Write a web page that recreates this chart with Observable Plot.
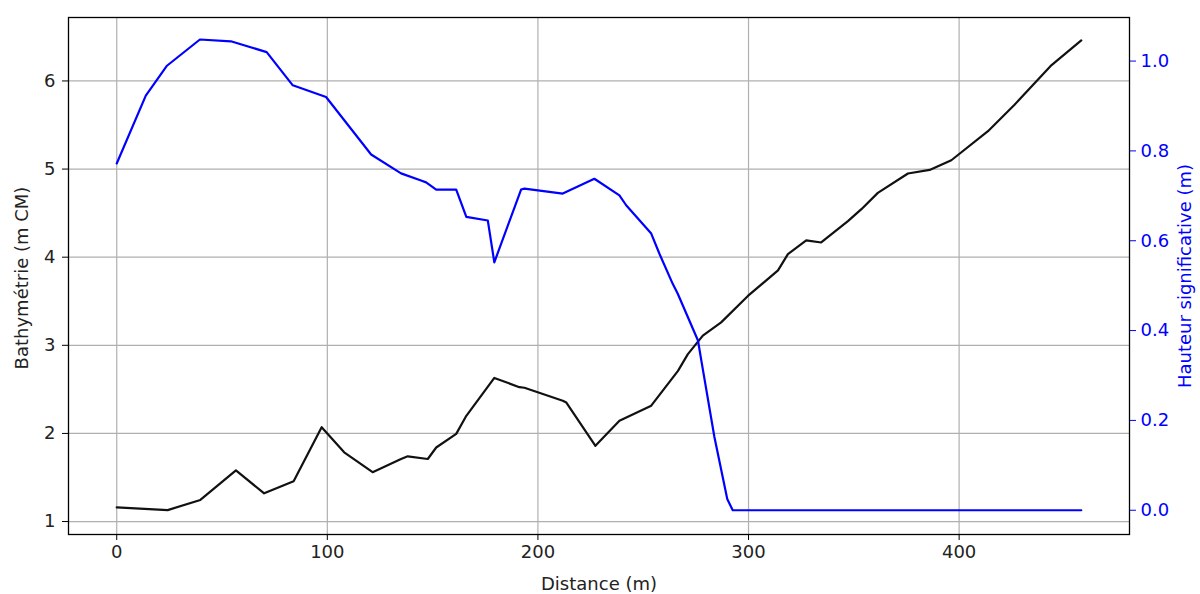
<!DOCTYPE html>
<html>
<head>
<meta charset="utf-8">
<script src="https://cdn.jsdelivr.net/npm/d3@7"></script>
<script src="https://cdn.jsdelivr.net/npm/@observablehq/plot@0.6"></script>
<style>
  body { margin: 0; background: #fff; }
</style>
</head>
<body>
<div id="chart"></div>
<script>
// Bathymetry profile (black, left axis)
const bathyDist  = [0, 24.2, 39.7, 56.6, 70, 84, 97.3, 108, 121.5, 135, 138.2, 147.7, 151.7, 161.2, 166, 179.3, 191.2, 193.6, 211.8, 213.5, 227.3, 238.7, 253.8, 266.5, 271.2, 278.3, 287, 299.7, 314, 318.7, 327.4, 334.5, 347.2, 353.6, 361.4, 375.7, 386, 396.3, 413.7, 426.3, 443.9, 458];
const bathyDepth = [1.16, 1.13, 1.245, 1.58, 1.32, 1.457, 2.07, 1.786, 1.56, 1.71, 1.74, 1.71, 1.84, 1.995, 2.2, 2.63, 2.525, 2.518, 2.37, 2.35, 1.86, 2.145, 2.315, 2.71, 2.9, 3.11, 3.26, 3.56, 3.85, 4.035, 4.19, 4.167, 4.41, 4.545, 4.73, 4.95, 4.99, 5.1, 5.43, 5.73, 6.18, 6.46];

// Significant wave height (blue, right axis)
const hsDist  = [0, 13.8, 23.7, 39.5, 54.2, 71.2, 83.6, 99.4, 120.8, 135, 144.5, 146.9, 151.7, 161.2, 166, 176.2, 179.3, 192, 193.6, 211.8, 226.8, 238.7, 241.9, 253.8, 257.7, 264, 266.4, 276, 277.6, 283.8, 289.9, 292.5, 458];
const hsValue = [0.772, 0.923, 0.989, 1.048, 1.044, 1.02, 0.946, 0.92, 0.792, 0.75, 0.734, 0.73, 0.714, 0.714, 0.653, 0.645, 0.552, 0.714, 0.716, 0.705, 0.738, 0.701, 0.679, 0.616, 0.571, 0.504, 0.482, 0.378, 0.333, 0.163, 0.025, 0, 0];

// Ticks
const xTicks = [0, 100, 200, 300, 400];
const bathyTicks = [1, 2, 3, 4, 5, 6];
const hsTicks = [0, 0.2, 0.4, 0.6, 0.8, 1.0];

// Axis labels
const xLabel = "Distance (m)";
const yLeftLabel = "Bathymétrie (m CM)";
const yRightLabel = "Hauteur significative (m)";

// Domains
const xDomain = [-22.9, 480.9];
const bathyDomain = [0.853, 6.72];
const hsDomain = [-0.054, 1.097];

const hsToBathy = d3.scaleLinear().domain(hsDomain).range(bathyDomain);

const bathy = bathyDist.map((d, i) => ({d, z: bathyDepth[i]}));
const hs = hsDist.map((d, i) => ({d, h: hsValue[i]}));

const gridStyle = {stroke: "#b0b0b0", strokeOpacity: 1, strokeWidth: 1.2};
const fmt = d3.format(".1f");

const chart = Plot.plot({
  width: 1200,
  height: 594,
  marginLeft: 68,
  marginRight: 71,
  marginTop: 17,
  marginBottom: 60,
  style: {fontFamily: "DejaVu Sans", fontSize: "18px", color: "#222", background: "white", overflow: "visible"},
  x: {domain: xDomain},
  y: {domain: bathyDomain},
  marks: [
    Plot.gridX(xTicks, gridStyle),
    Plot.gridY(bathyTicks, gridStyle),
    Plot.line(bathy, {x: "d", y: "z", stroke: "#111", strokeWidth: 2.2}),
    Plot.line(hs, {x: "d", y: d => hsToBathy(d.h), stroke: "blue", strokeWidth: 2.2}),
    Plot.frame({stroke: "#000", strokeWidth: 1.3}),
    Plot.axisX(xTicks, {tickSize: 6, tickPadding: 5, label: null, stroke: "#000", fill: "#222", tickFormat: d => String(d)}),
    Plot.axisY(bathyTicks, {anchor: "left", tickSize: 6, tickPadding: 7, label: null, stroke: "#000", fill: "#222", tickFormat: d => String(d)}),
    Plot.axisY(hsTicks.map(hsToBathy), {anchor: "right", tickSize: 6, tickPadding: 5, label: null,
      tickFormat: v => fmt(hsToBathy.invert(v)), stroke: "blue", fill: "blue"}),
    Plot.text([xLabel], {text: d => d, frameAnchor: "bottom", textAnchor: "middle", lineAnchor: "bottom", dy: 55, fill: "#222"}),
    Plot.text([yLeftLabel], {text: d => d, frameAnchor: "left", textAnchor: "middle", rotate: -90, lineAnchor: "middle", dx: -46, dy: 2, fill: "#222"}),
    Plot.text([yRightLabel], {text: d => d, frameAnchor: "right", textAnchor: "middle", rotate: -90, lineAnchor: "middle", dx: 56, fill: "blue"})
  ]
});
document.getElementById("chart").appendChild(chart);
</script>
</body>
</html>
